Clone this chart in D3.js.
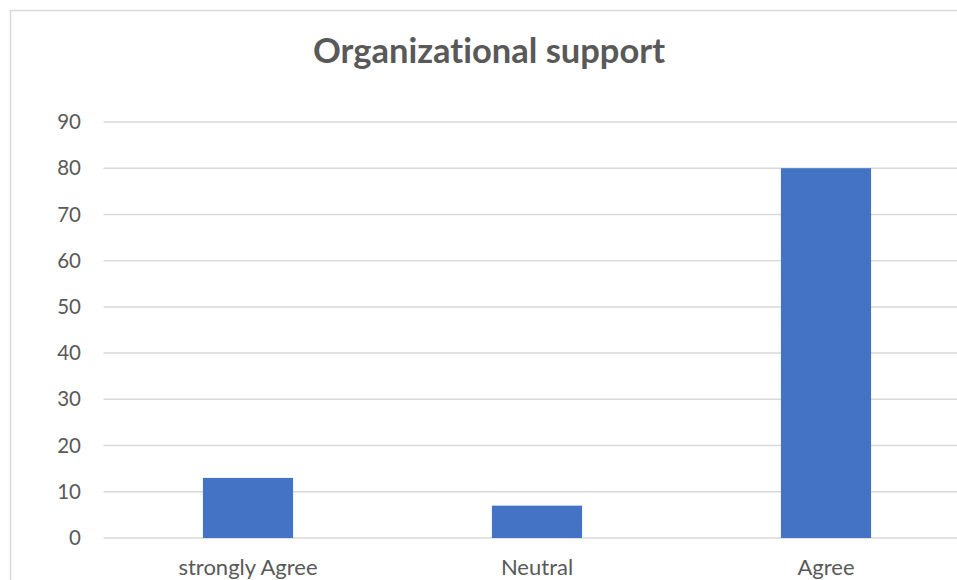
<!DOCTYPE html>
<html>
<head>
<meta charset="utf-8">
<script src="https://cdn.jsdelivr.net/npm/d3@7"></script>
<style>
  html, body { margin: 0; padding: 0; background: #fff; }
  svg { display: block; font-family: Lato, "Open Sans", sans-serif; font-variant-ligatures: none; }
</style>
</head>
<body>
<svg id="chart" width="957" height="580"></svg>
<script>
// Survey responses on organizational support
const categories = ["strongly Agree", "Neutral", "Agree"];
const values = [13, 7, 80];
const yTicks = [0, 10, 20, 30, 40, 50, 60, 70, 80, 90];
const title = "Organizational support";

const svg = d3.select("#chart");
const textColor = "#595959";
const gridColor = "#d9d9d9";

// Chart frame
svg.append("rect")
  .attr("x", 10.5).attr("y", 10.5)
  .attr("width", 990).attr("height", 620)
  .attr("fill", "#fff")
  .attr("stroke", gridColor).attr("stroke-width", 1.5);

const plot = { left: 103.5, right: 970.5, top: 122, bottom: 538 };

const x = d3.scaleBand()
  .domain(categories)
  .range([plot.left, plot.right])
  .paddingInner(0.688)
  .paddingOuter(0.344);

const y = d3.scaleLinear()
  .domain([0, 90])
  .range([plot.bottom, plot.top]);

// Gridlines
svg.append("g")
  .selectAll("line")
  .data(yTicks)
  .join("line")
  .attr("x1", plot.left).attr("x2", plot.right + 10)
  .attr("y1", d => y(d)).attr("y2", d => y(d))
  .attr("stroke", gridColor).attr("stroke-width", 1.5);

// Y-axis labels
const yAxis = d3.axisLeft(y).tickValues(yTicks).tickSize(0).tickPadding(0);
svg.append("g")
  .attr("transform", `translate(81,0)`)
  .call(yAxis)
  .call(g => g.select(".domain").remove())
  .call(g => g.selectAll("text")
    .attr("fill", textColor)
    .attr("font-size", 20.5)
    .attr("font-family", "Lato, 'Open Sans', sans-serif"));

// Bars
svg.append("g")
  .selectAll("rect")
  .data(values)
  .join("rect")
  .attr("x", (d, i) => x(categories[i]))
  .attr("width", x.bandwidth())
  .attr("y", d => y(d))
  .attr("height", d => y(0) - y(d))
  .attr("fill", "#4472c4");

// X-axis labels
const xAxis = d3.axisBottom(x).tickSize(0).tickPadding(0);
svg.append("g")
  .attr("transform", `translate(0,${plot.bottom + 21})`)
  .call(xAxis)
  .call(g => g.select(".domain").remove())
  .call(g => g.selectAll("text")
    .attr("fill", textColor)
    .attr("font-size", 22)
    .attr("font-family", "Lato, 'Open Sans', sans-serif"));

// Title
svg.append("text")
  .attr("x", 489).attr("y", 63)
  .attr("text-anchor", "middle")
  .attr("fill", textColor)
  .attr("font-size", 34.5)
  .attr("font-weight", "bold")
  .text(title);
</script>
</body>
</html>
